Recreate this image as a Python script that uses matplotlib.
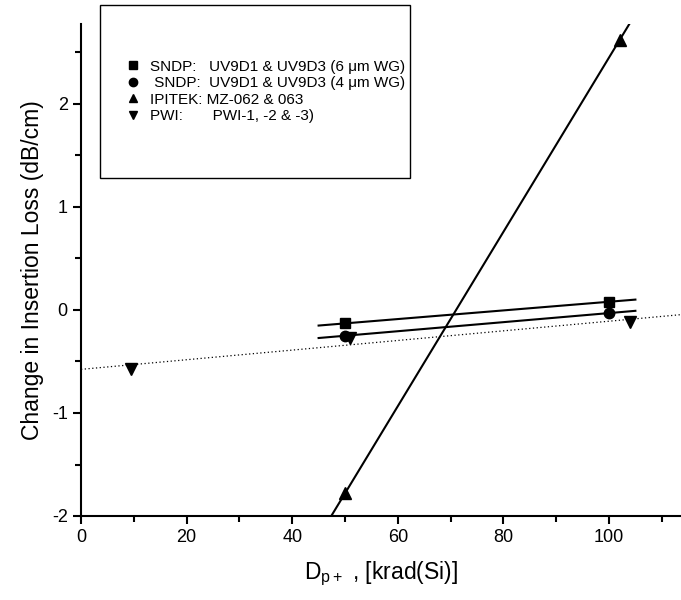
import numpy as np
import matplotlib
matplotlib.use('agg')
import matplotlib.pyplot as plt
from matplotlib.lines import Line2D
from matplotlib.patches import Rectangle

plt.rcParams['font.family'] = ['Liberation Sans', 'DejaVu Sans']
plt.rcParams['axes.unicode_minus'] = False
plt.rcParams['mathtext.fontset'] = 'custom'
plt.rcParams['mathtext.rm'] = 'Liberation Sans'

# data
sq_x = [50, 100]
sq_y = [-0.13, 0.08]
ci_x = [50, 100]
ci_y = [-0.25, -0.03]
up_x = [50, 102]
up_y = [-1.78, 2.62]
dn_x = [9.5, 51, 104]
dn_y = [-0.57, -0.27, -0.12]

labels = ["SNDP:   UV9D1 & UV9D3 (6 \u03bcm WG)",
          " SNDP:  UV9D1 & UV9D3 (4 \u03bcm WG)",
          "IPITEK: MZ-062 & 063",
          "PWI:       PWI-1, -2 & -3)"]

fig = plt.figure(figsize=(6.81, 6.0), dpi=100)
ax = fig.add_axes([81/681, 84/600, 600/681, 492/600])

ms = 7
ax.plot(sq_x, sq_y, 's', color='k', ms=ms, zorder=3)
ax.plot(ci_x, ci_y, 'o', color='k', ms=ms+0.5, zorder=3)
ax.plot(up_x, up_y, '^', color='k', ms=ms+1, zorder=3)
ax.plot(dn_x, dn_y, 'v', color='k', ms=ms+1, zorder=3)

# fit lines
xs = np.array([45, 105])
for x, y in [(sq_x, sq_y), (ci_x, ci_y)]:
    p = np.polyfit(x, y, 1)
    ax.plot(xs, np.polyval(p, xs), color='k', lw=1.5)
p = np.polyfit(up_x, up_y, 1)
xu = np.array([40, 110])
ax.plot(xu, np.polyval(p, xu), color='k', lw=1.5)
p = np.polyfit(dn_x, dn_y, 1)
xd = np.array([0, 115])
ax.plot(xd, np.polyval(p, xd), color='k', lw=0.9, ls=(0, (1, 2)))

ax.set_xlim(0, 600/5.28)
ax.set_ylim(-2, 2 + 80/103)
ax.set_xticks([0, 20, 40, 60, 80, 100])
ax.set_xticks([10, 30, 50, 70, 90, 110], minor=True)
ax.set_yticks([-2, -1, 0, 1, 2])
ax.set_yticks([-1.5, -0.5, 0.5, 1.5, 2.5], minor=True)
ax.spines['top'].set_visible(False)
ax.spines['right'].set_visible(False)
for s in ['left', 'bottom']:
    ax.spines[s].set_linewidth(1.5)
ax.tick_params(which='major', direction='out', length=6, width=1.5, labelsize=13)
ax.tick_params(which='minor', direction='out', length=4, width=1.5)

ax.set_xlabel(r'D$_{\mathregular{p+}}$ , [krad(Si)]', fontsize=16.5, labelpad=10)
ax.set_ylabel('Change in Insertion Loss (dB/cm)', fontsize=16.5, labelpad=6)

# legend box
fig.patches.append(Rectangle((100/681, 1 - 178/600), 310/681, 173/600,
                             transform=fig.transFigure, fill=False,
                             edgecolor='k', lw=1.0, zorder=5))
handles = [Line2D([], [], marker=m, color='k', ls='none', ms=6)
           for m in ['s', 'o', '^', 'v']]
leg = fig.legend(handles, labels, loc='upper left',
                 bbox_to_anchor=(118/681, 1 - 52/600), frameon=False,
                 fontsize=11, handlelength=1.0, handletextpad=0.6,
                 labelspacing=0.17, borderpad=0)

fig.savefig('out.png', dpi=100)
